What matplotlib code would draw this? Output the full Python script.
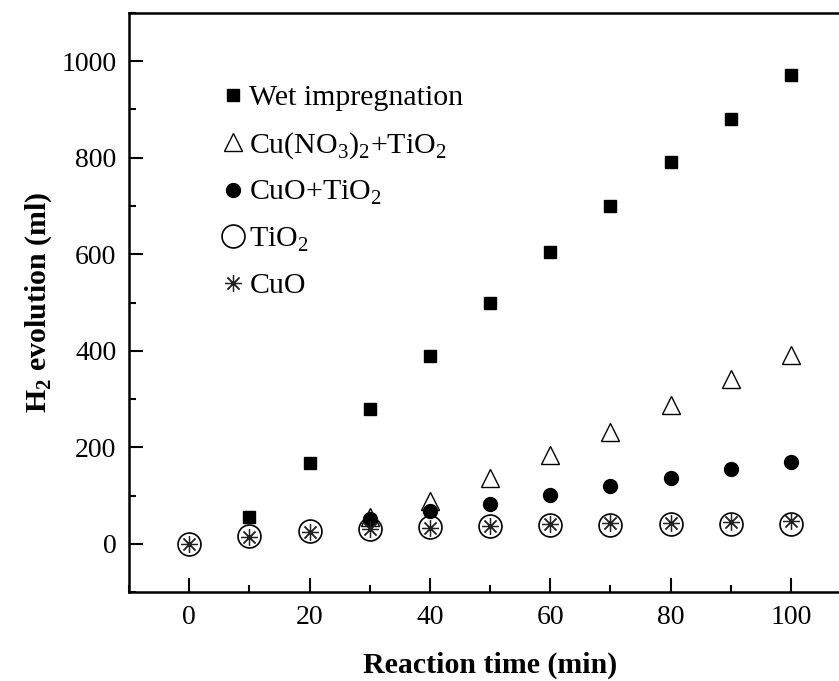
import matplotlib
matplotlib.use('Agg')
import matplotlib.pyplot as plt
from matplotlib.ticker import MultipleLocator

plt.rcParams['font.family'] = 'Liberation Serif'
plt.rcParams['mathtext.fontset'] = 'custom'
plt.rcParams['mathtext.rm'] = 'Liberation Serif'
plt.rcParams['mathtext.bf'] = 'Liberation Serif:bold'

# reaction time (min)
time = [0, 10, 20, 30, 40, 50, 60, 70, 80, 90, 100]
time_wet = [10, 20, 30, 40, 50, 60, 70, 80, 90, 100]
time_nitrate = [30, 40, 50, 60, 70, 80, 90, 100]
time_mix = [30, 40, 50, 60, 70, 80, 90, 100]

# H2 evolution (ml)
wet_impregnation = [56, 168, 280, 390, 500, 605, 700, 792, 880, 972]
cu_nitrate_tio2 = [55, 88, 137, 184, 232, 287, 342, 391]
cuo_tio2 = [52, 67, 82, 101, 119, 137, 155, 169]
tio2 = [0, 17, 26, 30, 34, 36, 38, 39, 40, 40, 40]
cuo = [0, 15, 25, 30, 33, 37, 40, 42, 44, 46, 48]

fig = plt.figure(figsize=(8.39, 6.81), dpi=100)
ax = fig.add_axes([129 / 839, 89 / 681, 722 / 839, 579 / 681])

ax.plot(time, tio2, linestyle='none', marker='o', markersize=16.5, markerfacecolor='none',
        markeredgecolor='black', markeredgewidth=1.2, label='TiO$_2$', zorder=2)
ax.plot(time_mix, cuo_tio2, linestyle='none', marker='o', markersize=10, color='black',
        label='CuO+TiO$_2$', zorder=3)
ax.plot(time_nitrate, cu_nitrate_tio2, linestyle='none', marker='^', markersize=12.5,
        markerfacecolor='white', markeredgecolor='black', markeredgewidth=1.0,
        label='Cu(NO$_3$)$_2$+TiO$_2$', zorder=2.5)
ax.plot(time_wet, wet_impregnation, linestyle='none', marker='s', markersize=9, color='black',
        label='Wet impregnation', zorder=4)
ax.plot(time, cuo, linestyle='none', marker=(8, 2, 0), markersize=12, markeredgecolor='#222222',
        markeredgewidth=0.9, label='CuO', zorder=5)

ax.set_xlim(-10, 110)
ax.set_ylim(-100, 1100)
ax.xaxis.set_major_locator(MultipleLocator(20))
ax.xaxis.set_minor_locator(MultipleLocator(10))
ax.yaxis.set_major_locator(MultipleLocator(200))
ax.yaxis.set_minor_locator(MultipleLocator(100))
ax.tick_params(which='both', direction='in', labelsize=20, width=1.5)
ax.tick_params(which='major', length=10, pad=9)
ax.tick_params(which='minor', length=5)
for s in ax.spines.values():
    s.set_linewidth(1.8)

ax.set_xlabel('Reaction time (min)', fontsize=21.5, fontweight='bold', labelpad=16)
ax.set_ylabel(r'H$_\mathbf{2}$ evolution (ml)', fontsize=21.5, fontweight='bold', labelpad=5)

handles, labels = ax.get_legend_handles_labels()
order = ['Wet impregnation', 'Cu(NO$_3$)$_2$+TiO$_2$', 'CuO+TiO$_2$', 'TiO$_2$', 'CuO']
hl = dict(zip(labels, handles))
ax.legend([hl[k] for k in order], order, loc='upper left', bbox_to_anchor=(0.113, 0.897),
          frameon=False, fontsize=21.5, handlelength=0.7, handletextpad=0.2, labelspacing=0.62,
          borderaxespad=0)

fig.savefig('out.png', dpi=100)
